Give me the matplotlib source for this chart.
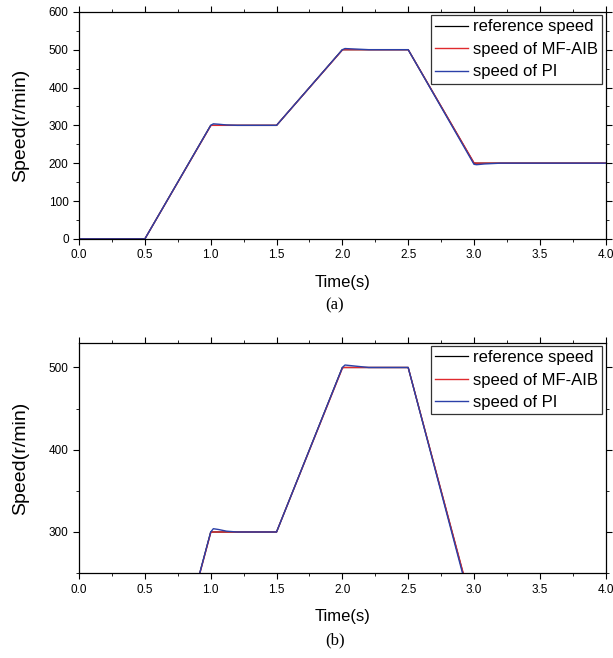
import matplotlib.pyplot as plt
from matplotlib.ticker import MultipleLocator

# Breakpoints (time in s, speed in r/min)
t_ref = [0.0, 0.5, 1.0, 1.5, 2.0, 2.5, 3.0, 4.0]
v_ref = [0, 0, 300, 300, 500, 500, 200, 200]

t_aib = [0.0, 0.5, 1.0, 1.01, 1.5, 2.0, 2.01, 2.5, 3.0, 3.02, 4.0]
v_aib = [0, 0, 299, 300, 300, 499, 500, 500, 201, 200, 200]

t_pi = [0.0, 0.5, 1.0, 1.02, 1.06, 1.12, 1.2, 1.5, 2.0, 2.02, 2.08, 2.2, 2.5, 3.0, 3.02, 3.08, 3.2, 4.0]
v_pi = [0, 0, 300, 304, 303, 301, 300, 300, 500, 503, 502, 500, 500, 197, 196, 198, 200, 200]

plt.rcParams['font.family'] = ['Liberation Sans', 'DejaVu Sans']

fig = plt.figure(figsize=(6.13, 6.58), dpi=100)
ax1 = fig.add_axes([0.129, 0.637, 0.859, 0.345])
ax2 = fig.add_axes([0.129, 0.129, 0.859, 0.350])


def draw(ax, ylim, major, minor):
    ax.plot(t_ref, v_ref, color='black', lw=0.9, label='reference speed')
    ax.plot(t_aib, v_aib, color='#e02a2e', lw=1.0, label='speed of MF-AIB')
    ax.plot(t_pi, v_pi, color='#2b40a8', lw=1.0, label='speed of PI')
    ax.set_xlim(0, 4)
    ax.set_ylim(*ylim)
    ax.xaxis.set_major_locator(MultipleLocator(0.5))
    ax.xaxis.set_minor_locator(MultipleLocator(0.25))
    ax.yaxis.set_major_locator(MultipleLocator(major))
    ax.yaxis.set_minor_locator(MultipleLocator(minor))
    ax.xaxis.set_major_formatter(plt.FormatStrFormatter('%.1f'))
    ax.tick_params(which='both', direction='out', labelsize=8.5, top=True, right=True)
    ax.tick_params(which='major', length=4)
    ax.tick_params(which='minor', length=2.5)
    ax.tick_params(axis='both', which='both', labeltop=False, labelright=False)
    for s in ax.spines.values():
        s.set_linewidth(0.9)
    ax.set_xlabel('Time(s)', fontsize=12, labelpad=10)
    ax.set_ylabel('Speed(r/min)', fontsize=14, labelpad=14)
    leg = ax.legend(loc='upper right', fontsize=12, frameon=True, fancybox=False,
                    edgecolor='black', borderpad=0.25, labelspacing=0.45,
                    handlelength=2.0, handletextpad=0.3, borderaxespad=0.2)
    leg.get_frame().set_linewidth(0.9)


draw(ax1, (0, 600), 100, 50)
draw(ax2, (250, 530), 100, 50)

fig.text(0.546, 0.5365, '(a)', ha='center', va='center', fontsize=12, family='Liberation Serif')
fig.text(0.546, 0.027, '(b)', ha='center', va='center', fontsize=12, family='Liberation Serif')

plt.savefig('out.png', dpi=100)
